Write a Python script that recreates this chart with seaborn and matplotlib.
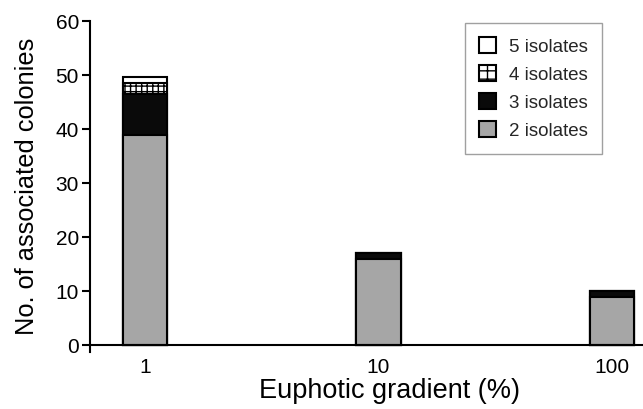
import matplotlib
matplotlib.use("Agg")
import matplotlib.pyplot as plt
import seaborn as sns
import numpy as np
import pandas as pd
from matplotlib.patches import Patch

categories = ["1", "10", "100"]
iso2 = [39.0, 16.0, 9.0]
iso3 = [7.6, 1.0, 1.0]
iso4 = [1.9, 0.0, 0.0]
iso5 = [1.2, 0.0, 0.0]
series_labels = ["2 isolates", "3 isolates", "4 isolates", "5 isolates"]

sns.set_theme(style="white")
plt.rcParams['font.family'] = ['Liberation Sans', 'DejaVu Sans']
plt.rcParams['hatch.linewidth'] = 1.0

fig = plt.figure(figsize=(6.43, 4.09), dpi=100)
ax = fig.add_axes([0.14, 0.139, 0.86, 0.809])

c2 = np.array(iso2)
c3 = c2 + np.array(iso3)
c4 = c3 + np.array(iso4)
c5 = c4 + np.array(iso5)

styles = [
    (c5, "white", None, "5 isolates"),
    (c4, "white", "+++", "4 isolates"),
    (c3, "#0a0a0a", None, "3 isolates"),
    (c2, "#a6a6a6", None, "2 isolates"),
]
for vals, col, hatch, lab in styles:
    df = pd.DataFrame({"cat": categories, "val": vals})
    sns.barplot(data=df, x="cat", y="val", ax=ax, color=col, width=0.19,
                edgecolor="black", linewidth=1.5, hatch=hatch, errorbar=None,
                saturation=1)

ax.set_xlim(-0.236, 2.133)
ax.set_ylim(-1.3, 60)
ax.spines['bottom'].set_position(('data', 0))
ax.spines['left'].set_bounds(-1.3, 60)
ax.spines['top'].set_visible(False)
ax.spines['right'].set_visible(False)
for s in ['left', 'bottom']:
    ax.spines[s].set_color('black')
    ax.spines[s].set_linewidth(1.5)
ax.set_yticks([0, 10, 20, 30, 40, 50, 60])
ax.tick_params(axis='y', left=True, length=6, width=1.5, color='black',
               labelsize=15, pad=2, labelcolor='black')
ax.tick_params(axis='x', bottom=False, labelsize=15, pad=3, labelcolor='black')
ax.set_xlabel("Euphotic gradient (%)", fontsize=19.5, color='black', labelpad=0)
ax.xaxis.set_label_coords(0.541, -0.078)
ax.set_ylabel("No. of associated colonies", fontsize=18.3, color='black', labelpad=12)

handles = [
    Patch(facecolor="white", edgecolor="black", linewidth=1.5, label="5 isolates"),
    Patch(facecolor="white", edgecolor="black", linewidth=1.5, hatch="++", label="4 isolates"),
    Patch(facecolor="#0a0a0a", edgecolor="black", linewidth=1.5, label="3 isolates"),
    Patch(facecolor="#a6a6a6", edgecolor="black", linewidth=1.5, label="2 isolates"),
]
leg = ax.legend(handles=handles, loc="upper right", bbox_to_anchor=(0.926, 0.994),
                fontsize=13.5, frameon=True, fancybox=False, handlelength=0.9,
                handleheight=0.9, handletextpad=0.7, borderpad=0.75, labelspacing=0.52,
                borderaxespad=0)
leg.get_frame().set_edgecolor("#888888")
leg.get_frame().set_linewidth(1.0)

fig.savefig("out.png", dpi=100)
